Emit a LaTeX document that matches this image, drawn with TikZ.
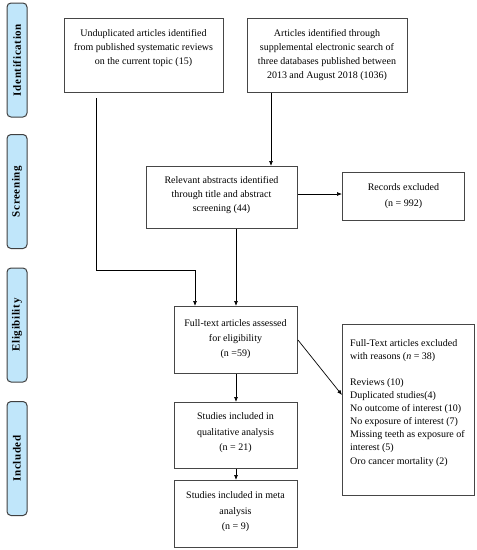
\documentclass[tikz,border=0pt]{standalone}
\usepackage{fontspec}
\setmainfont{Liberation Serif}
\usetikzlibrary{arrows.meta}
\definecolor{stageblue}{RGB}{192,230,250}
\definecolor{boxline}{RGB}{70,70,70}
\tikzset{
  box/.style={draw=boxline, line width=1pt, rectangle, inner sep=0pt, anchor=north west},
  txt/.style={font=\fontsize{10}{14}\selectfont, align=center, inner sep=0pt},
  stage/.style={draw=black!75, fill=stageblue, line width=1pt, rounded corners=4pt,
    rotate=90, minimum width=114pt, minimum height=20pt, inner sep=0pt,
    font=\fontsize{11}{13}\selectfont\bfseries\addfontfeature{LetterSpace=6}},
  arr/.style={-{Latex[length=5pt,width=4pt]}, line width=0.7pt, draw=black}
}
\begin{document}
\begin{tikzpicture}[x=1pt,y=-1pt]
\useasboundingbox (0,0) rectangle (477,550);
% stage labels
\node[stage] (s1) at (17,60) {Identification};
\node[stage] (s2) at (17,191.5) {Screening};
\node[stage] (s3) at (17,325) {Eligibility};
\node[stage] (s4) at (17,458.5) {Included};
% boxes
\node[box, minimum width=159pt, minimum height=74pt] (A) at (64,18) {};
\node[box, minimum width=160pt, minimum height=74pt] (B) at (247,18) {};
\node[box, minimum width=151pt, minimum height=62pt] (C) at (146,166) {};
\node[box, minimum width=122pt, minimum height=48pt] (R) at (342,172) {};
\node[box, minimum width=123pt, minimum height=67pt] (F) at (174,306) {};
\node[box, minimum width=132pt, minimum height=171pt] (E) at (342,324) {};
\node[box, minimum width=123pt, minimum height=66pt] (Q) at (174,402) {};
\node[box, minimum width=123pt, minimum height=67pt] (M) at (174,480) {};
% texts
\node[txt, anchor=north] (At) at (143.5,29.5) {Unduplicated articles identified\\from published systematic reviews\\on the current topic (15)};
\node[txt, anchor=north] (Bt) at (327,29.5) {Articles identified through\\supplemental electronic search of\\three databases published between\\2013 and August 2018 (1036)};
\node[txt, anchor=north] (Ct) at (221.5,176.5) {Relevant abstracts identified\\through title and abstract\\screening (44)};
\node[txt, font=\fontsize{10}{16}\selectfont] (Rt) at (403.5,196) {Records excluded\\(n = 992)};
\node[txt, font=\fontsize{10}{15}\selectfont] (Ft) at (235.5,339.5) {Full-text articles assessed\\for eligibility\\(n =59)};
\node[txt, font=\fontsize{10}{15.5}\selectfont] (Qt) at (235.5,433) {Studies included in\\qualitative analysis\\(n = 21)};
\node[txt, font=\fontsize{10}{15.5}\selectfont] (Mt) at (235.5,512) {Studies included in meta\\analysis\\(n = 9)};
\node[txt, align=left, anchor=north west, font=\fontsize{10}{13.1}\selectfont] (Et) at (350,339) {Full-Text articles excluded\\with reasons (\textit{n} = 38)\\[13.1pt]Reviews (10)\\Duplicated studies(4)\\No outcome of interest (10)\\No exposure of interest (7)\\Missing teeth as exposure of\\interest (5)\\Oro cancer mortality (2)};
% connectors
\coordinate (a1) at (96,98);
\coordinate (aj) at (195,270);
\coordinate (bx) at (271,0);
\coordinate (ry) at (0,194);
\coordinate (ey) at (0,395);
\draw[line width=0.7pt] (a1) |- (aj);
\draw[arr] (aj) -- (aj |- F.north);
\draw[arr] (B.south -| bx) -- (C.north -| bx);
\draw[arr] (C.south -| F.north) -- (F.north);
\draw[arr] (C.east |- ry) -- (R.west |- ry);
\draw[arr] (F.east) -- (E.west |- ey);
\draw[arr] (F.south) -- (Q.north);
\draw[arr] (Q.south) -- (M.north);
\end{tikzpicture}
\end{document}
